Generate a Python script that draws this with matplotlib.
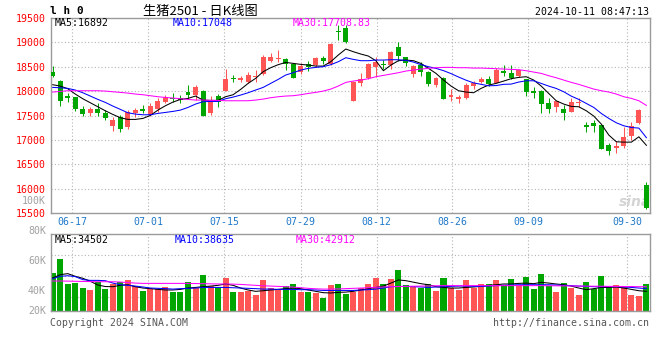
import matplotlib.pyplot as plt
import numpy as np

# daily candles, LH2501, 06-12 .. 10-10
open_ = [18400, 18207, 17900, 17880, 17635, 17557, 17633, 17545, 17285, 17476,
         17264, 17557, 17633, 17510, 17627, 17783, 17858, 17853, 17988, 17920,
         18002, 17545, 17906, 18002, 18275, 18221, 18193, 18289, 18344, 18617,
         18650, 18658, 18549, 18385, 18549, 18535, 18672, 18549, 19232, 19287,
         17803, 18172, 18262, 18500, 18562, 18535, 18904, 18693, 18350, 18535,
         18391, 18131, 18262, 17885, 17844, 17859, 18111, 18180, 18248, 18172,
         18418, 18377, 18309, 18248, 18002, 18002, 17762, 17680, 17633, 17578,
         17750, 17305, 17353, 17305, 16896, 16840, 16875, 17080, 17340, 16076]
high = [18515, 18228, 17955, 17880, 17695, 17680, 17750, 17613, 17476, 17504,
        17613, 17660, 17715, 17750, 17853, 17920, 17955, 17920, 18125, 18125,
        18025, 17900, 17941, 18453, 18330, 18310, 18398, 18432, 18740, 18787,
        18842, 18672, 18549, 18570, 18623, 18705, 18726, 18980, 19354, 19354,
        18200, 18377, 18570, 18705, 18637, 18822, 19000, 18705, 18535, 18590,
        18418, 18295, 18283, 18037, 17920, 18160, 18213, 18295, 18316, 18467,
        18535, 18535, 18447, 18248, 18090, 18023, 17853, 17797, 17715, 17853,
        17853, 17361, 17408, 17310, 16930, 16978, 17271, 17373, 17627, 16144]
low = [18285, 17695, 17785, 17590, 17490, 17490, 17490, 17408, 17189, 17168,
       17230, 17476, 17545, 17490, 17578, 17750, 17783, 17750, 17853, 17818,
       17490, 17510, 17680, 18000, 18193, 18193, 18160, 18193, 18330, 18590,
       18603, 18432, 18262, 18344, 18412, 18500, 18549, 18535, 19047, 18980,
       17800, 18105, 18248, 18295, 18447, 18447, 18623, 18514, 18295, 18316,
       18105, 18090, 17838, 17803, 17762, 17844, 18049, 18160, 18111, 18160,
       18309, 18248, 18295, 17906, 17853, 17545, 17545, 17578, 17408, 17566,
       17680, 17156, 17168, 16810, 16691, 16738, 16828, 16998, 17326, 15585]
close = [18310, 17803, 17860, 17635, 17535, 17633, 17557, 17450, 17408, 17230,
         17578, 17613, 17592, 17695, 17803, 17885, 17832, 17818, 17920, 18090,
         17490, 17818, 17770, 18248, 18248, 18275, 18330, 18316, 18705, 18705,
         18684, 18562, 18275, 18521, 18500, 18684, 18617, 18965, 19205, 19012,
         18193, 18248, 18555, 18596, 18529, 18801, 18726, 18582, 18514, 18398,
         18152, 18275, 17844, 17926, 17873, 18131, 18172, 18248, 18152, 18432,
         18365, 18262, 18432, 17988, 17955, 17742, 17633, 17797, 17557, 17783,
         17783, 17271, 17291, 16814, 16779, 16875, 17053, 17285, 17613, 15600]

ma5 = [18132, 18105, 18050, 17941, 17845, 17763, 17681, 17599, 17524, 17456,
       17422, 17422, 17442, 17504, 17613, 17702, 17777, 17831, 17852, 17900,
       17818, 17811, 17811, 17886, 17927, 18036, 18159, 18262, 18398, 18480,
       18542, 18589, 18569, 18548, 18535, 18514, 18514, 18603, 18740, 18863,
       18808, 18760, 18719, 18624, 18419, 18535, 18624, 18637, 18624, 18569,
       18467, 18364, 18228, 18105, 18009, 17982, 17968, 18057, 18125, 18159,
       18207, 18255, 18282, 18296, 18228, 18105, 17954, 17804, 17736, 17688,
       17681, 17599, 17490, 17326, 17101, 16964, 16957, 16957, 17066, 16892]
ma10 = [18077, 18070, 18057, 18023, 17968, 17900, 17832, 17770, 17695, 17627,
        17558, 17531, 17517, 17517, 17545, 17565, 17586, 17613, 17667, 17736,
        17784, 17790, 17790, 17845, 17879, 17920, 17968, 18023, 18077, 18159,
        18241, 18330, 18378, 18432, 18467, 18487, 18501, 18542, 18603, 18685,
        18651, 18624, 18624, 18637, 18637, 18644, 18644, 18630, 18596, 18542,
        18501, 18467, 18420, 18360, 18290, 18225, 18170, 18140, 18110, 18115,
        18140, 18145, 18186, 18213, 18213, 18159, 18104, 18056, 17988, 17899,
        17831, 17749, 17667, 17544, 17442, 17353, 17291, 17257, 17244, 17048]
ma30 = [17982, 17995, 18009, 18009, 18009, 18009, 18009, 18002, 17988, 17975,
        17961, 17941, 17927, 17907, 17886, 17872, 17859, 17845, 17831, 17818,
        17818, 17811, 17811, 17804, 17804, 17804, 17804, 17818, 17838, 17866,
        17886, 17900, 17907, 17927, 17954, 17975, 18002, 18043, 18105, 18180,
        18207, 18227, 18255, 18296, 18323, 18350, 18378, 18412, 18432, 18453,
        18467, 18480, 18487, 18487, 18480, 18480, 18473, 18473, 18467, 18460,
        18453, 18446, 18439, 18419, 18391, 18364, 18316, 18275, 18227, 18180,
        18139, 18091, 18043, 18009, 17982, 17941, 17886, 17852, 17804, 17709]

# volume in thousands of lots
volume_k = [52.1, 61.5, 45.0, 45.3, 42.0, 40.7, 46.2, 41.3, 44.7, 46.0,
            47.3, 43.2, 40.0, 41.3, 41.3, 42.4, 39.5, 39.5, 46.0, 42.0,
            50.7, 43.5, 42.0, 48.7, 39.3, 39.5, 40.1, 37.3, 47.3, 42.0,
            40.8, 43.3, 44.7, 39.3, 39.3, 38.7, 35.3, 44.0, 44.7, 38.0,
            39.6, 42.0, 44.7, 48.7, 44.7, 48.0, 54.0, 43.8, 42.7, 41.8,
            44.7, 40.0, 48.7, 41.8, 40.7, 47.3, 41.8, 44.7, 44.7, 47.3,
            44.0, 48.0, 43.8, 49.3, 41.3, 51.3, 43.6, 39.3, 45.3, 42.0,
            37.3, 46.0, 41.3, 50.0, 42.7, 44.0, 42.7, 37.3, 36.7, 44.7]
vma5 = [48.7, 50.9, 51.6, 49.8, 48.5, 46.5, 44.0, 43.0, 42.9, 43.8,
        44.2, 42.9, 42.0, 41.6, 41.1, 40.7, 40.7, 41.1, 42.0, 42.4,
        42.9, 43.3, 43.8, 44.7, 43.8, 42.0, 40.7, 39.8, 40.2, 40.7,
        41.1, 41.6, 42.0, 41.6, 40.7, 39.8, 38.9, 38.7, 39.1, 39.3,
        39.8, 40.7, 41.6, 42.4, 43.3, 45.3, 47.4, 46.9, 45.9, 44.9,
        44.2, 42.9, 42.4, 42.0, 42.0, 42.4, 42.7, 43.1, 43.8, 44.2,
        44.7, 44.7, 45.1, 45.3, 44.9, 45.8, 45.3, 44.7, 44.2, 43.3,
        42.0, 40.9, 41.6, 42.4, 42.4, 42.7, 42.0, 41.1, 40.2, 39.8]
vma10 = [48.2, 49.8, 50.2, 49.6, 47.6, 47.1, 47.1, 46.9, 45.3, 44.2,
         43.8, 43.3, 42.7, 42.0, 41.8, 41.6, 41.3, 41.6, 41.8, 42.0,
         42.4, 42.4, 42.4, 42.4, 42.2, 42.0, 41.8, 41.6, 41.3, 41.3,
         41.1, 41.1, 41.1, 40.9, 40.9, 40.7, 40.4, 40.4, 40.4, 40.4,
         40.4, 40.7, 40.9, 41.3, 42.0, 42.9, 43.1, 43.1, 42.9, 42.7,
         42.4, 42.7, 42.9, 43.1, 43.3, 43.3, 43.1, 43.1, 43.3, 43.6,
         43.8, 44.0, 44.2, 44.2, 44.2, 44.2, 44.2, 44.0, 43.8, 43.6,
         43.3, 43.1, 42.9, 42.9, 42.9, 42.9, 42.7, 42.4, 42.0, 41.6]
vma30 = [46.7, 46.7, 46.6, 46.5, 46.4, 46.3, 46.2, 46.2, 46.2, 46.0,
         45.6, 45.3, 45.1, 45.1, 45.1, 45.1, 45.1, 45.1, 45.1, 45.0,
         44.9, 44.8, 44.7, 44.7, 44.6, 44.4, 44.1, 43.8, 43.5, 43.3,
         43.1, 42.9, 42.6, 42.2, 41.8, 41.5, 41.3, 41.3, 41.4, 41.6,
         41.8, 42.0, 42.2, 42.5, 42.7, 42.9, 43.0, 43.1, 43.2, 43.3,
         43.4, 43.5, 43.6, 43.6, 43.6, 43.6, 43.6, 43.6, 43.6, 43.6,
         43.6, 43.6, 43.6, 43.6, 43.6, 43.6, 43.5, 43.5, 43.4, 43.4,
         43.3, 43.3, 43.2, 43.2, 43.1, 43.1, 43.0, 43.0, 42.9, 42.9]

tick_labels = ['06-17', '07-01', '07-15', '07-29', '08-12', '08-26', '09-09', '09-30']
tick_pos = [2.61, 12.72, 22.83, 33.0, 43.11, 53.17, 63.29, 76.46]

RED = '#ff5555'
GREEN = '#00a600'
GRID = '#b4b4b4'
FRAME = '#9a9a9a'
MONO = 'DejaVu Sans Mono'
FS = 7.1
LW = 0.75
W, H = 660, 360

plt.rcParams['font.family'] = [MONO, 'Noto Sans CJK SC']


def fx(px):
    return px / W


def fy(py):
    return 1 - py / H


x = np.arange(len(close))
o = np.array(open_, float)
c = np.array(close, float)
hi = np.array(high, float)
lo = np.array(low, float)
colors = np.where(c >= o, RED, GREEN)

fig = plt.figure(figsize=(W / 100, H / 100), dpi=100)
fig.patch.set_facecolor('white')

xlim = (-0.27, 79.48)

# price panel
ax = fig.add_axes([fx(50.7), fy(213.3), fx(650 - 50.7), (213.3 - 17.9) / H])
ax.set_xlim(*xlim)
ax.set_ylim(15500, 19500)
for yv in range(16000, 19001, 500):
    ax.axhline(yv, color=GRID, lw=0.8, ls=(0, (1, 2)), zorder=0)
for tp in tick_pos:
    ax.axvline(tp, color=GRID, lw=0.8, ls=(0, (1, 2)), zorder=0)

ax.vlines(x, lo, hi, colors=colors, lw=LW, zorder=2)
body_lo = np.minimum(o, c)
body_h = np.maximum(np.abs(c - o), 22)
ax.bar(x, body_h, width=0.66, bottom=body_lo, color=colors, lw=0, zorder=3)

ax.plot(x, ma5, color='black', lw=LW, zorder=4)
ax.plot(x, ma10, color='#0000ff', lw=LW, zorder=4)
ax.plot(x, ma30, color='#ff00ff', lw=LW, zorder=4)

ax.set_yticks(range(15500, 19501, 500))
ax.tick_params(axis='y', length=0, pad=3.4, labelcolor='#ff0000', labelsize=FS)
ax.set_xticks(tick_pos, tick_labels)
ax.tick_params(axis='x', length=0, pad=2.6, labelcolor='#1e78c8', labelsize=FS)
for s in ax.spines.values():
    s.set_color(FRAME)
    s.set_linewidth(1.0)
ax.text(-0.0078, 15754, '100K', transform=ax.get_yaxis_transform(), ha='right',
        va='center', color='#a0a0a0', fontsize=FS)
ax.text(0.975, 0.06, 'sina', transform=ax.transAxes, ha='center', va='center',
        color='#d4d4d4', fontsize=10, fontweight='bold', style='italic',
        family='DejaVu Sans', zorder=1)

# volume panel
v_lo, v_hi = 26.9, 78.0
vax = fig.add_axes([fx(50.7), fy(310.7), fx(650 - 50.7), (310.7 - 234) / H])
vax.set_xlim(*xlim)
vax.set_ylim(v_lo, v_hi)
for f in (0.175, 0.449, 0.722):
    vax.axhline(v_lo + f * (v_hi - v_lo), color=GRID, lw=0.8, ls=(0, (1, 2)), zorder=0)
for tp in tick_pos:
    vax.axvline(tp, color=GRID, lw=0.8, ls=(0, (1, 2)), zorder=0)
vax.bar(x, volume_k, width=0.8, color=colors, lw=0, zorder=2)
vax.plot(x, vma5, color='black', lw=LW, zorder=4)
vax.plot(x, vma10, color='#0000ff', lw=LW, zorder=4)
vax.plot(x, vma30, color='#ff00ff', lw=LW, zorder=4)
vax.set_xticks([])
vax.set_yticks([])
for s in vax.spines.values():
    s.set_color(FRAME)
    s.set_linewidth(1.0)
for lab, yv in (('80K', 80.2), ('60K', 60), ('40K', 40), ('20K', v_lo)):
    vax.text(-0.0078, yv, lab, transform=vax.get_yaxis_transform(), ha='right',
             va='center', color='#a0a0a0', fontsize=FS, clip_on=False)

# header / labels
fig.text(fx(50), fy(11), 'l h 0', fontsize=8, fontweight='bold', color='black',
         va='center', ha='left')
fig.text(fx(200), fy(11), '生猪2501 - 日K线图', fontsize=9.5, color='black',
         va='center', ha='center', family=['Noto Sans CJK SC', 'DejaVu Sans'])
fig.text(fx(649), fy(12), '2024-10-11 08:47:13', fontsize=FS, color='black',
         va='center', ha='right')

fig.text(fx(55), fy(23.5), 'MA5:16892', fontsize=FS, color='black', va='center')
fig.text(fx(173), fy(23.5), 'MA10:17048', fontsize=FS, color='#0000ff', va='center')
fig.text(fx(293), fy(23.5), 'MA30:17708.83', fontsize=FS, color='#ff00ff', va='center')

fig.text(fx(55), fy(240), 'MA5:34502', fontsize=FS, color='black', va='center')
fig.text(fx(175), fy(240), 'MA10:38635', fontsize=FS, color='#0000ff', va='center')
fig.text(fx(296), fy(240), 'MA30:42912', fontsize=FS, color='#ff00ff', va='center')

fig.text(fx(50), fy(323.5), 'Copyright 2024 SINA.COM', fontsize=FS, color='#555555',
         va='center', ha='left')
fig.text(fx(649.5), fy(323.5), 'http://finance.sina.com.cn', fontsize=FS,
         color='#555555', va='center', ha='right')

fig.savefig('out.png', dpi=100, facecolor='white')
